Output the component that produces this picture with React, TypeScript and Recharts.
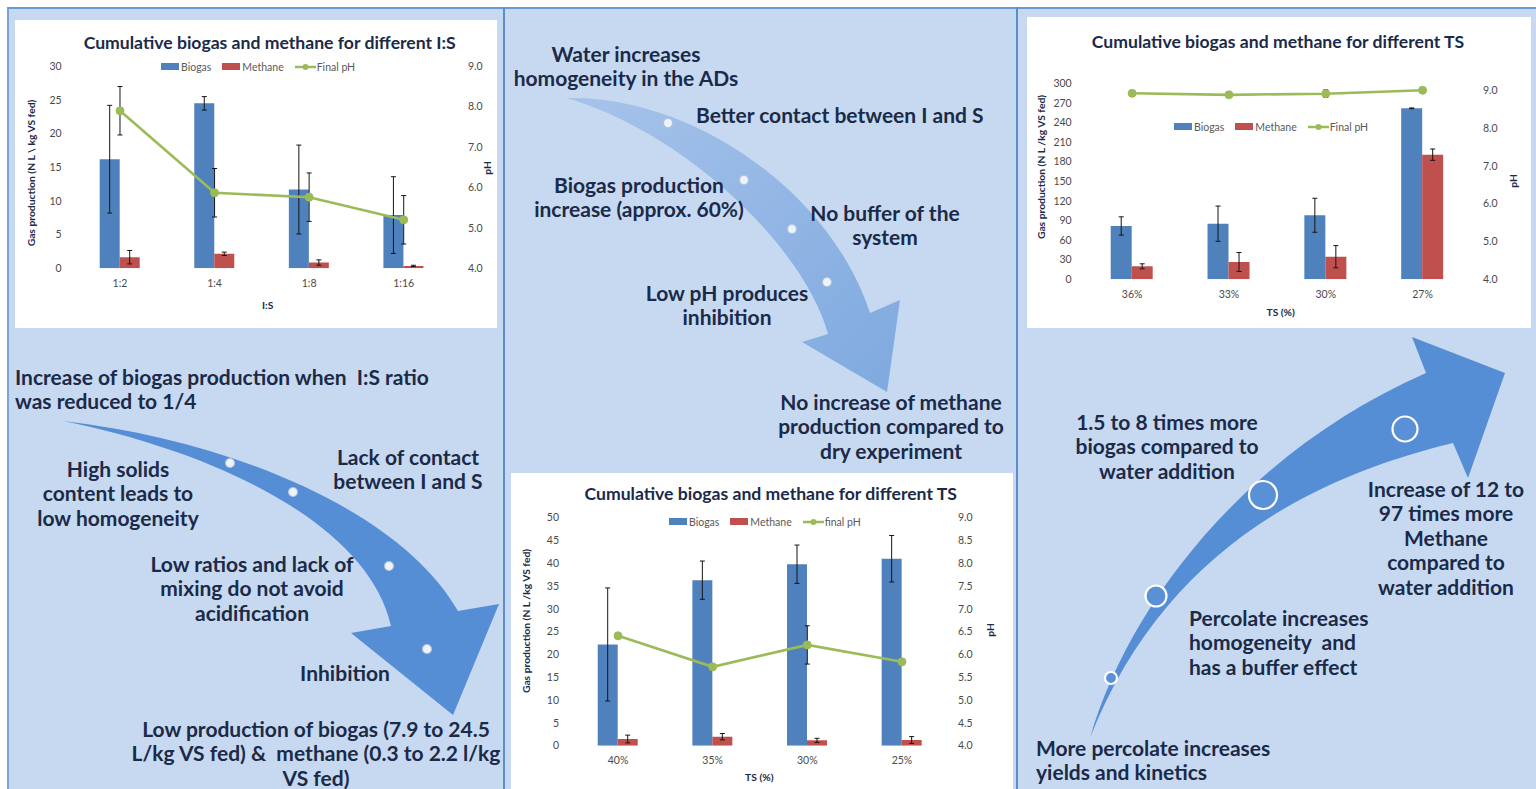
import React from 'react';
import { ComposedChart, Bar, Line, XAxis, YAxis, ErrorBar, Legend } from 'recharts';

// ---------- Data: chart 1 (I:S ratio) ----------
const isCategories = ['1:2', '1:4', '1:8', '1:16'];
const isBiogas = [16.2, 24.5, 11.7, 7.9];
const isBiogasErr = [8.0, 1.0, 6.6, 5.7];
const isMethane = [1.65, 2.15, 0.85, 0.35];
const isMethaneErr = [1.0, 0.25, 0.4, 0.1];
const isPH = [7.9, 5.87, 5.76, 5.2];
const isPHErr = [0.6, 0.6, 0.6, 0.6];
const isLeftTicks = [0, 5, 10, 15, 20, 25, 30];
const isRightTicks = [4, 5, 6, 7, 8, 9];

// ---------- Data: chart 2 (TS with water) ----------
const twCategories = ['40%', '35%', '30%', '25%'];
const twBiogas = [22.2, 36.3, 39.8, 41.0];
const twBiogasErr = [12.4, 4.2, 4.2, 5.1];
const twMethane = [1.47, 1.97, 1.17, 1.25];
const twMethaneErr = [0.85, 0.7, 0.45, 0.75];
const twPH = [6.41, 5.73, 6.21, 5.84];
const twPHErr = [0, 0, 0.42, 0];
const twLeftTicks = [0, 5, 10, 15, 20, 25, 30, 35, 40, 45, 50];
const twRightTicks = [4, 4.5, 5, 5.5, 6, 6.5, 7, 7.5, 8, 8.5, 9];

// ---------- Data: chart 3 (TS with percolate) ----------
const tpCategories = ['36%', '33%', '30%', '27%'];
const tpBiogas = [81.6, 85.1, 98.0, 261.7];
const tpBiogasErr = [14, 27, 26, 0.6];
const tpMethane = [19.9, 26.5, 34.6, 190.8];
const tpMethaneErr = [3.8, 14.5, 17, 8.7];
const tpPH = [8.92, 8.88, 8.91, 9.0];
const tpPHErr = [0, 0, 0.1, 0];
const tpLeftTicks = [0, 30, 60, 90, 120, 150, 180, 210, 240, 270, 300];
const tpRightTicks = [4, 5, 6, 7, 8, 9];

const BIO = '#4F81BD';
const MET = '#C0504D';
const PHC = '#9BBB59';
const NAVY = '#1B2A48';
const TICK = '#4A4A4A';
const FONT = 'Lato, "Open Sans", sans-serif';

type ChartProps = {
  box: { x: number; y: number; w: number; h: number };
  plot: { left: number; right: number; top: number; bottom: number };
  title: string;
  titlePos: [number, number];
  categories: string[];
  biogas: number[]; biogasErr: number[];
  methane: number[]; methaneErr: number[];
  ph: number[]; phErr: number[];
  leftDomain: [number, number]; leftTicks: number[];
  rightDomain: [number, number]; rightTicks: number[];
  leftMargin: number; rightMargin: number;
  barSize: number;
  legendPos: [number, number];
  phLabel: string;
  yLabel: string; yLabelPos: [number, number];
  pLabelPos: [number, number];
  xLabel: string; xLabelPos: [number, number];
};

function LegendBox({ phLabel }: { phLabel: string }) {
  const item = { display: 'flex', alignItems: 'center', marginRight: 11 } as const;
  return (
    <div style={{ display: 'flex', alignItems: 'center', fontFamily: FONT, fontSize: 10.5, color: '#595959', whiteSpace: 'nowrap' }}>
      <div style={item}><span style={{ width: 18, height: 7, background: BIO, marginRight: 2 }} />Biogas</div>
      <div style={item}><span style={{ width: 18, height: 7, background: MET, marginRight: 2 }} />Methane</div>
      <div style={item}>
        <svg width={21} height={8} style={{ marginRight: 1 }}>
          <line x1={0} y1={4} x2={21} y2={4} stroke={PHC} strokeWidth={2.5} />
          <circle cx={10.5} cy={4} r={3} fill={PHC} />
        </svg>
        {phLabel}
      </div>
    </div>
  );
}

function GasChart(p: ChartProps) {
  const data = p.categories.map((c, i) => ({
    cat: c,
    biogas: p.biogas[i], biogasErr: p.biogasErr[i],
    methane: p.methane[i], methaneErr: p.methaneErr[i],
    ph: p.ph[i], phErr: p.phErr[i],
  }));
  const n = p.categories.length;
  const tickStyle = { fontSize: 10.5, fill: TICK, fontFamily: FONT };
  const lab = { position: 'absolute' as const, whiteSpace: 'nowrap' as const, fontFamily: FONT, fontWeight: 700, fontSize: 10.3, color: NAVY };
  return (
    <div style={{ position: 'absolute', left: p.box.x, top: p.box.y, width: p.box.w, height: p.box.h, background: '#fff', overflow: 'hidden' }}>
      <ComposedChart width={p.box.w} height={p.box.h} data={data} margin={{ top: p.plot.top, right: 0, bottom: 0, left: 0 }} barGap={0}>
        <XAxis xAxisId="grid" type="number" domain={[0, n]} ticks={Array.from({ length: n + 1 }, (_, i) => i)} height={0} tick={false} tickSize={5} axisLine={{ stroke: '#D0D0D0' }} tickLine={{ stroke: '#D0D0D0' }} allowDataOverflow />
        <XAxis xAxisId="cat" dataKey="cat" height={p.plot.bottom} axisLine={false} tickLine={false} tickSize={0} tickMargin={11} tick={tickStyle} interval={0} />
        <YAxis yAxisId="gas" width={p.plot.left} domain={p.leftDomain} ticks={p.leftTicks} axisLine={false} tickLine={false} tickSize={0} tickMargin={p.leftMargin} tick={tickStyle} allowDataOverflow />
        <YAxis yAxisId="ph" orientation="right" width={p.plot.right} domain={p.rightDomain} ticks={p.rightTicks} axisLine={false} tickLine={false} tickSize={0} tickMargin={p.rightMargin} tick={tickStyle} tickFormatter={(v: number) => v.toFixed(1)} allowDataOverflow />
        <Bar xAxisId="cat" yAxisId="gas" dataKey="biogas" fill={BIO} barSize={p.barSize} isAnimationActive={false}>
          <ErrorBar dataKey="biogasErr" width={2.5} stroke="#151515" strokeWidth={1} direction="y" />
        </Bar>
        <Bar xAxisId="cat" yAxisId="gas" dataKey="methane" fill={MET} barSize={p.barSize} isAnimationActive={false}>
          <ErrorBar dataKey="methaneErr" width={2.5} stroke="#151515" strokeWidth={1} direction="y" />
        </Bar>
        <Line xAxisId="cat" yAxisId="ph" dataKey="ph" stroke={PHC} strokeWidth={2.6} dot={{ r: 4, fill: PHC, stroke: PHC, strokeWidth: 1 }} isAnimationActive={false}>
          <ErrorBar dataKey="phErr" width={2.5} stroke="#151515" strokeWidth={1} direction="y" />
        </Line>
        <Legend verticalAlign="middle" align="center" layout="horizontal" content={() => <LegendBox phLabel={p.phLabel} />}
          wrapperStyle={{ top: p.legendPos[1] - 6, left: p.legendPos[0], width: 'auto', height: 12 }} />
      </ComposedChart>
      <div style={{ position: 'absolute', left: p.titlePos[0], top: p.titlePos[1], transform: 'translate(-50%,-50%)', whiteSpace: 'nowrap', fontFamily: FONT, fontWeight: 700, fontSize: 17.6, color: NAVY }}>{p.title}</div>
      <div style={{ ...lab, left: p.yLabelPos[0], top: p.yLabelPos[1], transform: 'translate(-50%,-50%) rotate(-90deg)' }}>{p.yLabel}</div>
      <div style={{ ...lab, left: p.pLabelPos[0], top: p.pLabelPos[1], transform: 'translate(-50%,-50%) rotate(-90deg)' }}>pH</div>
      <div style={{ ...lab, left: p.xLabelPos[0], top: p.xLabelPos[1], transform: 'translate(-50%,-50%)' }}>{p.xLabel}</div>
    </div>
  );
}

function T({ x, y, lines, align = 'center', size = 21 }: { x: number; y: number; lines: string[]; align?: 'center' | 'left'; size?: number }) {
  const lh = 24.5;
  return (
    <div style={{
      position: 'absolute', left: x, top: y - lh / 2, transform: align === 'center' ? 'translateX(-50%)' : undefined,
      textAlign: align, whiteSpace: 'pre', fontFamily: FONT, fontWeight: 700, fontSize: size, lineHeight: `${lh}px`, color: NAVY,
    }}>
      {lines.join('\n')}
    </div>
  );
}

export default function App() {
  const dotS = { fill: '#EEF3FA', stroke: '#AFC3DE', strokeWidth: 1.2 };
  const dotR = { fill: '#5A91D6', stroke: '#FFFFFF', strokeWidth: 2.2 };
  return (
    <div style={{ position: 'absolute', left: 0, top: 0, width: 1536, height: 789, overflow: 'hidden', background: '#fff' }}>
      {/* panels */}
      <div style={{ position: 'absolute', left: 7, top: 7, width: 1529, height: 782, background: '#C6D9F1', borderTop: '2px solid #6A98D6', borderLeft: '2px solid #7BA3D8', boxSizing: 'border-box' }} />
      <div style={{ position: 'absolute', left: 503, top: 7, width: 2, height: 782, background: '#5E8CCB' }} />
      <div style={{ position: 'absolute', left: 1016, top: 7, width: 2, height: 782, background: '#5E8CCB' }} />

      <svg width={1536} height={789} style={{ position: 'absolute', left: 0, top: 0 }}>
        <defs>
          <linearGradient id="midg" x1="0" y1="0" x2="1" y2="1">
            <stop offset="0" stopColor="#A6C3EA" />
            <stop offset="1" stopColor="#7FA9DF" />
          </linearGradient>
        </defs>
        <path d="M 63 421 C 230 440 400 510 458 611 L 499 604 L 453 715 L 351 633 L 391 626 C 370 530 230 455 63 421 Z" fill="#558ED5" />
        <path d="M 567 98 C 690 95 830 190 870 313 L 900 300 L 887 392 L 802 342 L 828 334 C 805 250 690 135 567 98 Z" fill="url(#midg)" />
        <path d="M 1090 738 C 1130 600 1250 450 1426 373 L 1412 337 L 1505 373 L 1468 478 L 1453 443 C 1300 480 1160 560 1090 738 Z" fill="#558ED5" />
        <circle cx={230} cy={463} r={4.5} {...dotS} />
        <circle cx={293} cy={492} r={4.5} {...dotS} />
        <circle cx={389} cy={566} r={4.5} {...dotS} />
        <circle cx={427} cy={649} r={4.5} {...dotS} />
        <circle cx={668} cy={123} r={4.5} {...dotS} />
        <circle cx={744} cy={180} r={4.5} {...dotS} />
        <circle cx={792} cy={229} r={4.5} {...dotS} />
        <circle cx={827} cy={282} r={4.5} {...dotS} />
        <circle cx={1111} cy={678} r={6} {...dotR} />
        <circle cx={1156} cy={596} r={10.5} {...dotR} />
        <circle cx={1263} cy={495} r={14} {...dotR} />
        <circle cx={1405} cy={429} r={12.5} {...dotR} />
      </svg>

      {/* left panel text */}
      <T x={15} y={377} align="left" lines={['Increase of biogas production when  I:S ratio', 'was reduced to 1/4']} />
      <T x={118} y={469} lines={['High solids', 'content leads to', 'low homogeneity']} />
      <T x={408} y={457} lines={['Lack of contact', 'between I and S']} />
      <T x={252} y={564} lines={['Low ratios and lack of', 'mixing do not avoid', 'acidification']} />
      <T x={345} y={673} lines={['Inhibition']} />
      <T x={316} y={729} lines={['Low production of biogas (7.9 to 24.5', 'L/kg VS fed) &  methane (0.3 to 2.2 l/kg', 'VS fed)']} />

      {/* middle panel text */}
      <T x={626} y={54} lines={['Water increases', 'homogeneity in the ADs']} />
      <T x={696} y={115} align="left" lines={['Better contact between I and S']} />
      <T x={639} y={185} lines={['Biogas production', 'increase (approx. 60%)']} />
      <T x={885} y={213} lines={['No buffer of the', 'system']} />
      <T x={727} y={293} lines={['Low pH produces', 'inhibition']} />
      <T x={891} y={402} lines={['No increase of methane', 'production compared to', 'dry experiment']} />

      {/* right panel text */}
      <T x={1167} y={422} lines={['1.5 to 8 times more', 'biogas compared to', 'water addition']} />
      <T x={1446} y={489} lines={['Increase of 12 to', '97 times more', 'Methane', 'compared to', 'water addition']} />
      <T x={1189} y={618} align="left" lines={['Percolate increases', 'homogeneity  and', 'has a buffer effect']} />
      <T x={1036} y={748} align="left" lines={['More percolate increases', 'yields and kinetics']} />

      <GasChart
        box={{ x: 15, y: 20, w: 482, h: 308 }}
        plot={{ left: 57.7, right: 46, top: 46.3, bottom: 59.7 }}
        title="Cumulative biogas and methane for different I:S" titlePos={[254.7, 21.7]}
        categories={isCategories} biogas={isBiogas} biogasErr={isBiogasErr}
        methane={isMethane} methaneErr={isMethaneErr} ph={isPH} phErr={isPHErr}
        leftDomain={[0, 30]} leftTicks={isLeftTicks} rightDomain={[4, 9]} rightTicks={isRightTicks}
        leftMargin={11} rightMargin={17} barSize={20}
        legendPos={[146, 46.7]} phLabel="Final pH"
        yLabel="Gas production  (N L \ kg VS fed)" yLabelPos={[15.7, 153]} pLabelPos={[472, 148.3]}
        xLabel="I:S" xLabelPos={[252.7, 285]}
      />
      <GasChart
        box={{ x: 1027, y: 17, w: 504, h: 311 }}
        plot={{ left: 56.7, right: 60, top: 66.3, bottom: 48.7 }}
        title="Cumulative biogas and methane for different TS" titlePos={[251, 23.7]}
        categories={tpCategories} biogas={tpBiogas} biogasErr={tpBiogasErr}
        methane={tpMethane} methaneErr={tpMethaneErr} ph={tpPH} phErr={tpPHErr}
        leftDomain={[0, 300]} leftTicks={tpLeftTicks} rightDomain={[4, 9.185]} rightTicks={tpRightTicks}
        leftMargin={12} rightMargin={12} barSize={21}
        legendPos={[147, 109.7]} phLabel="Final pH"
        yLabel="Gas production (N L /kg VS fed)" yLabelPos={[14, 150]} pLabelPos={[486, 164]}
        xLabel="TS (%)" xLabelPos={[253.7, 294.7]}
      />
      <GasChart
        box={{ x: 511, y: 473, w: 502, h: 316 }}
        plot={{ left: 59.7, right: 63.7, top: 44.7, bottom: 43.3 }}
        title="Cumulative biogas and methane for different TS" titlePos={[259.7, 20.3]}
        categories={twCategories} biogas={twBiogas} biogasErr={twBiogasErr}
        methane={twMethane} methaneErr={twMethaneErr} ph={twPH} phErr={twPHErr}
        leftDomain={[0, 50]} leftTicks={twLeftTicks} rightDomain={[4, 9]} rightTicks={twRightTicks}
        leftMargin={11.7} rightMargin={8.7} barSize={20}
        legendPos={[158, 48.7]} phLabel="final pH"
        yLabel="Gas production  (N L /kg VS fed)" yLabelPos={[15, 147.8]} pLabelPos={[479, 157]}
        xLabel="TS (%)" xLabelPos={[248.3, 303.7]}
      />
    </div>
  );
}
